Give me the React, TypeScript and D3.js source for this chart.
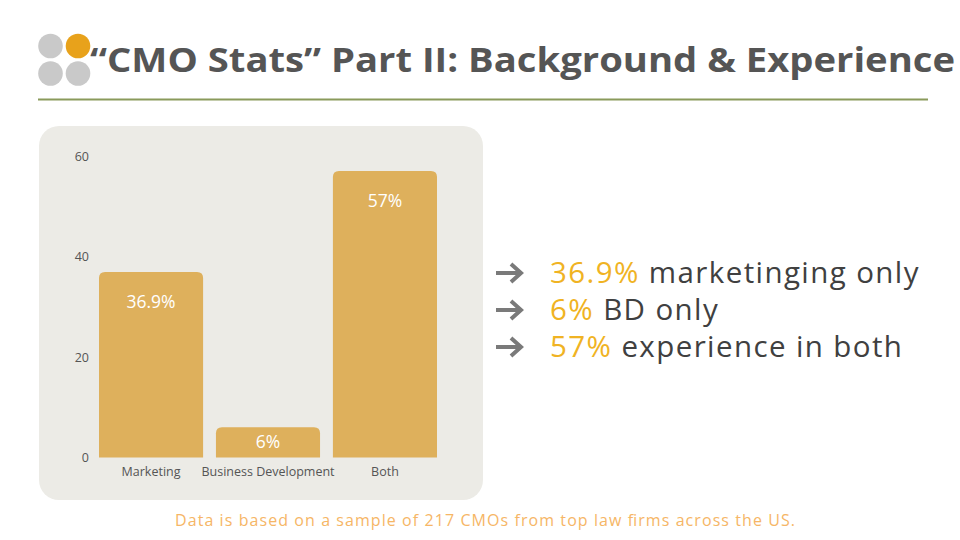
import React, { useMemo } from "react";
import * as d3 from "d3";

const categories = ["Marketing", "Business Development", "Both"];
const values = [36.9, 6, 57];
const valueLabels = ["36.9%", "6%", "57%"];
const yTicks = [0, 20, 40, 60];

const bulletNumbers = ["36.9%", "6%", "57%"];
const bulletTexts = ["marketinging only", "BD only", "experience in both"];

const TITLE = "\u201CCMO Stats\u201D Part II: Background & Experience";
const FOOTNOTE = "Data is based on a sample of 217 CMOs from top law firms across the US.";

const W = 960;
const H = 540;
const BAR_COLOR = "#deb05c";
const PANEL = { x: 39, y: 126, w: 444, h: 374 };

// rounded top corners only
const topRoundedRect = (x: number, y: number, w: number, h: number, r: number) => {
  const rr = Math.min(r, h / 2, w / 2);
  return `M${x},${y + h} L${x},${y + rr} Q${x},${y} ${x + rr},${y} L${x + w - rr},${y} Q${x + w},${y} ${x + w},${y + rr} L${x + w},${y + h} Z`;
};

export default function App() {
  const xScale = useMemo(
    () => d3.scaleBand().domain(categories).range([99, 437]).paddingInner(0.11).paddingOuter(0),
    []
  );
  const yScale = useMemo(() => d3.scaleLinear().domain([0, 60]).range([457.5, 156]), []);

  const bars = categories.map((c, i) => {
    const x = xScale(c) as number;
    const y = yScale(values[i]);
    const h = yScale(0) - y;
    const labelY = y + Math.min(30, h / 2) + 6;
    return (
      <g key={c}>
        <path d={topRoundedRect(x, y, xScale.bandwidth(), h, 6)} fill={BAR_COLOR} />
        <text
          x={x + xScale.bandwidth() / 2}
          y={labelY}
          textAnchor="middle"
          fill="#ffffff"
          fontSize={17.5}
          fontFamily="Open Sans, sans-serif"
        >
          {valueLabels[i]}
        </text>
        <text
          x={x + xScale.bandwidth() / 2}
          y={476}
          textAnchor="middle"
          fill="#555555"
          fontSize={12.5}
          fontFamily="Open Sans, sans-serif"
        >
          {c}
        </text>
      </g>
    );
  });

  const ticks = yTicks.map((t) => (
    <text
      key={t}
      x={89}
      y={yScale(t) + 4.5}
      textAnchor="end"
      fill="#555555"
      fontSize={12.5}
      fontFamily="Open Sans, sans-serif"
    >
      {t}
    </text>
  ));

  const rowY = [273, 310, 347];

  return (
    <svg
      width={W}
      height={H}
      style={{ position: "absolute", left: 0, top: 0, background: "#ffffff" }}
    >
      <rect x={0} y={0} width={W} height={H} fill="#ffffff" />

      {/* logo dots */}
      <circle cx={50.5} cy={46} r={12.3} fill="#c9c9c9" />
      <circle cx={78} cy={46} r={12.3} fill="#e8a21b" />
      <circle cx={50.5} cy={73.5} r={12.3} fill="#c9c9c9" />
      <circle cx={78} cy={73.5} r={12.3} fill="#c9c9c9" />

      <text
        x={90}
        y={72}
        fill="#555555"
        fontSize={34}
        fontWeight={700}
        fontFamily="Open Sans, sans-serif"
        textLength={865}
        lengthAdjust="spacingAndGlyphs"
      >
        {TITLE}
      </text>

      <line x1={38} x2={928} y1={99.5} y2={99.5} stroke="#8a9a5b" strokeWidth={2} />

      {/* chart panel */}
      <rect x={PANEL.x} y={PANEL.y} width={PANEL.w} height={PANEL.h} rx={20} fill="#ecebe6" />
      {ticks}
      {bars}

      {/* bullet list */}
      {bulletNumbers.map((n, i) => (
        <g key={n}>
          <path
            d={`M496,${rowY[i]} L520,${rowY[i]} M511,${rowY[i] - 9} L521,${rowY[i]} L511,${rowY[i] + 9}`}
            stroke="#7a7a7a"
            strokeWidth={4}
            fill="none"
          />
          <text
            x={550}
            y={rowY[i] + 10}
            fontSize={29.5}
            letterSpacing={1.4}
            fontFamily="Open Sans, sans-serif"
            fill="#404040"
          >
            <tspan fill="#f0b323">{n}</tspan>
            <tspan> {bulletTexts[i]}</tspan>
          </text>
        </g>
      ))}

      <text
        x={485}
        y={526}
        textAnchor="middle"
        fill="#f6b666"
        fontSize={16}
        fontFamily="Open Sans, sans-serif"
        textLength={620}
        lengthAdjust="spacing"
      >
        {FOOTNOTE}
      </text>
    </svg>
  );
}
